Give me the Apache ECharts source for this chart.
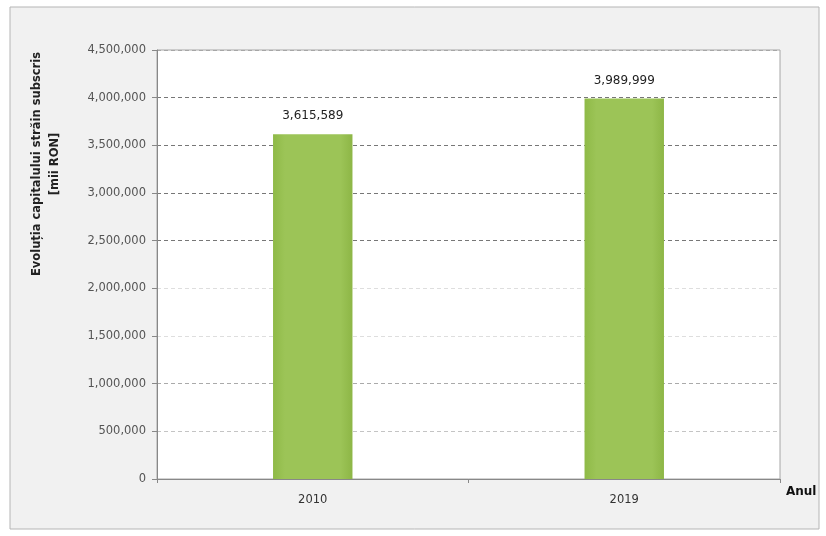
<!DOCTYPE html>
<html>
<head>
<meta charset="utf-8">
<script src="https://cdn.jsdelivr.net/npm/echarts@6/dist/echarts.min.js"></script>
<style>
    html, body { margin: 0; padding: 0; background: #fff; }
    #chart { width: 826px; height: 536px; }
</style>
</head>
<body>
<div id="chart"></div>
<script>
// data
var years = ['2010', '2019'];
var capital = [3615589, 3989999];
// colors of the split lines from 0 upward
var gridColors = ['#bbb', '#c4c4c4', '#aaa', '#dedede', '#dedede', '#777', '#777', '#777', '#777', '#a6a6a6'];

function fmt(v) {
    return String(v).replace(/\B(?=(\d{3})+(?!\d))/g, ',');
}

drawChart();

function drawChart() {
    var dom = document.getElementById("chart");
    var myChart = echarts.init(dom);
    var option = {
        animation: false,
        backgroundColor: '#fff',
        textStyle: {
            fontFamily: 'DejaVu Sans'
        },
        graphic: [{
            type: 'rect',
            z: -10,
            shape: { x: 10, y: 7, width: 809, height: 522 },
            style: { fill: '#f1f1f1', stroke: '#b5b5b5', lineWidth: 1 }
        }, {
            type: 'text',
            x: 46,
            y: 164,
            rotation: Math.PI / 2,
            style: {
                text: 'Evoluția capitalului străin subscris\n[mii RON]',
                font: 'bold 11.5px "DejaVu Sans"',
                fill: '#222',
                align: 'center',
                verticalAlign: 'middle',
                lineHeight: 18
            }
        }],
        grid: {
            left: 157,
            top: 50,
            width: 623,
            height: 429,
            show: true,
            backgroundColor: '#fff',
            borderColor: '#a6a6a6',
            borderWidth: 1
        },
        xAxis: {
            type: 'category',
            data: years,
            name: 'Anul',
            nameGap: 6,
            nameTextStyle: {
                fontWeight: 'bold',
                fontSize: 12,
                color: '#111',
                verticalAlign: 'top',
                padding: [7, 0, 0, 0]
            },
            axisLine: { lineStyle: { color: '#888' } },
            axisTick: { show: true, length: 4, lineStyle: { color: '#888' } },
            axisLabel: {
                color: '#333',
                fontSize: 11.5,
                margin: 15
            }
        },
        yAxis: {
            type: 'value',
            min: 0,
            max: 4500000,
            interval: 500000,
            axisLine: { show: true, lineStyle: { color: '#888' } },
            axisTick: { show: true, length: 5, lineStyle: { color: '#888' } },
            axisLabel: {
                color: '#555',
                fontSize: 11.5,
                margin: 11,
                formatter: function (v) { return fmt(v); }
            },
            splitLine: {
                lineStyle: {
                    color: gridColors,
                    type: [4, 3]
                }
            }
        },
        series: [{
            type: 'bar',
            data: capital,
            barWidth: '25.5%',
            itemStyle: {
                color: new echarts.graphic.LinearGradient(0, 0, 1, 0, [
                    { offset: 0, color: '#8fba47' },
                    { offset: 0.15, color: '#9cc457' },
                    { offset: 0.85, color: '#9cc457' },
                    { offset: 1, color: '#8db646' }
                ])
            },
            label: {
                show: true,
                position: 'top',
                distance: 12,
                color: '#222',
                fontSize: 12,
                formatter: function (p) { return fmt(p.value); }
            }
        }]
    };
    myChart.setOption(option, true);
}
</script>
</body>
</html>
